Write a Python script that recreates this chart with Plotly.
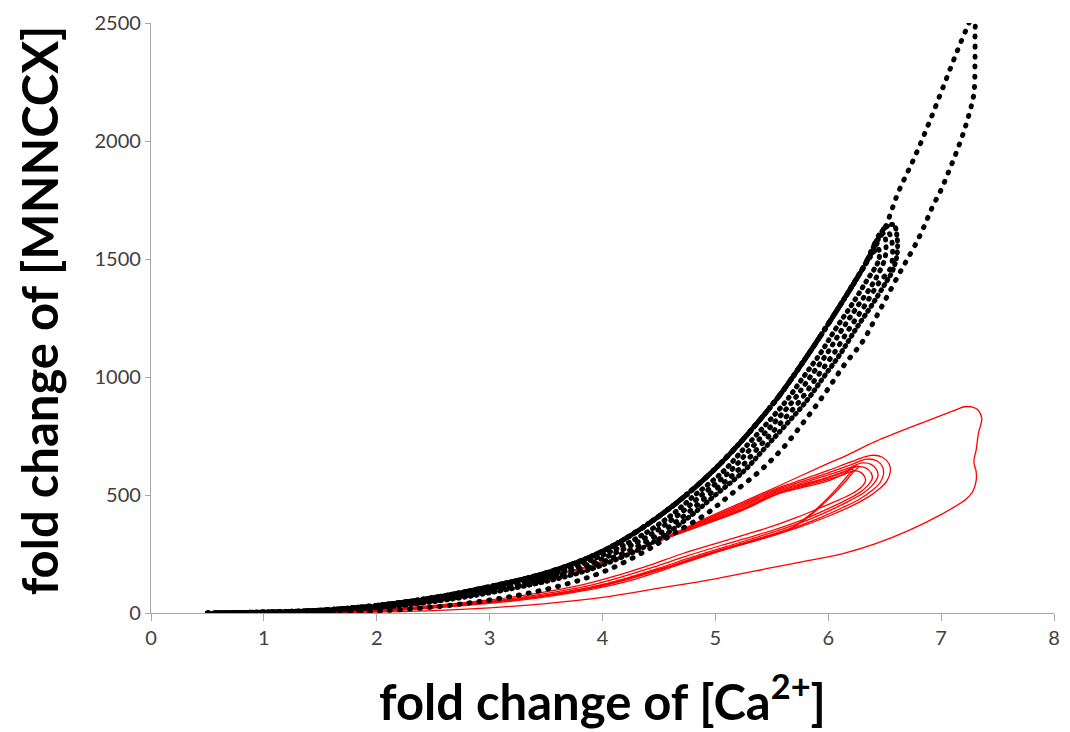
import plotly.graph_objects as go

# ---- black (dotted) trajectories: shared rising branch ----
blk_rise_ca = [0.50, 1.00, 1.50, 2.00, 2.50, 3.00, 3.50, 4.00, 4.50, 5.00, 5.50, 5.80, 6.10, 6.30, 6.50]
blk_rise_mn = [0, 4, 12, 32, 65, 112, 170, 262, 410, 612, 880, 1080, 1300, 1455, 1630]

# outer black cycle (continues above the rising branch)
blk_outer_ca = [6.62, 6.77, 6.91, 7.04, 7.14, 7.22, 7.27, 7.30, 7.30, 7.30, 7.29, 7.25, 7.20, 7.14,
                7.07, 7.00, 6.92, 6.85, 6.77, 6.69, 6.62, 6.52, 6.42, 6.30, 6.14, 5.98, 5.80, 5.60,
                5.39, 5.12, 4.92, 4.63, 4.39, 4.04, 3.70, 3.30, 2.90, 2.50, 2.00, 1.50, 1.00, 0.55]
blk_outer_mn = [1782, 1937, 2097, 2256, 2378, 2470, 2520, 2530, 2460, 2330, 2200, 2118, 2038, 1958,
                1874, 1794, 1718, 1639, 1559, 1490, 1430, 1340, 1250, 1147, 1050, 937, 820, 700,
                600, 496, 420, 336, 265, 181, 125, 80, 48, 25, 9, 3, 1, 0]

# inner black cycles (turning points and falling branches)
blk_c1_ca = [6.44, 6.45, 6.33, 6.20, 6.06, 5.93, 5.78, 5.63, 5.45, 5.26, 5.07, 4.82, 4.57, 4.24,
             3.77, 3.44, 2.98, 2.53, 2.05, 1.48, 1.00, 0.55]
blk_c1_mn = [1545, 1500, 1400, 1300, 1200, 1100, 1000, 900, 800, 700, 600, 500, 400, 300,
             200, 150, 100, 60, 30, 10, 3, 0]
blk_c2_ca = [6.49, 6.51, 6.50, 6.40, 6.26, 6.12, 5.99, 5.84, 5.69, 5.51, 5.32, 5.13, 4.88, 4.63,
             4.31, 3.84, 3.51, 3.04, 2.58, 2.10, 1.53, 1.00, 0.55]
blk_c2_mn = [1610, 1570, 1500, 1400, 1300, 1200, 1100, 1000, 900, 800, 700, 600, 500, 400,
             300, 200, 150, 100, 60, 30, 10, 3, 0]
blk_c3_ca = [6.55, 6.57, 6.55, 6.45, 6.32, 6.18, 6.05, 5.90, 5.75, 5.57, 5.38, 5.19, 4.94, 4.69,
             4.38, 3.91, 3.57, 3.10, 2.63, 2.14, 1.57, 1.03, 0.55]
blk_c3_mn = [1600, 1530, 1460, 1400, 1300, 1200, 1100, 1000, 900, 800, 700, 600, 500, 400,
             300, 200, 150, 100, 60, 30, 10, 3, 0]
blk_c4_ca = [6.58, 6.61, 6.61, 6.57, 6.51, 6.38, 6.24, 6.11, 5.96, 5.81, 5.63, 5.44, 5.25, 5.00,
             4.75, 4.45, 3.98, 3.64, 3.16, 2.68, 2.18, 1.60, 1.04, 0.55]
blk_c4_mn = [1645, 1590, 1520, 1450, 1400, 1300, 1200, 1100, 1000, 900, 800, 700, 600, 500,
             400, 300, 200, 150, 100, 60, 30, 10, 3, 0]

# ---- red (solid) trajectories: shared rising branch ----
red_rise_ca = [0.55, 1.00, 1.50, 2.00, 2.50, 2.90, 3.30, 3.70, 4.10, 4.45]
red_rise_mn = [0, 2, 10, 30, 68, 100, 138, 176, 228, 296]

red_outer_ca = [4.90, 5.25, 5.55, 5.98, 6.15, 6.42, 6.86, 7.10, 7.21, 7.28, 7.33, 7.36, 7.33, 7.31,
                7.29, 7.31, 7.31, 7.28, 7.22, 7.01, 6.71, 6.42, 6.13, 5.83, 5.50, 5.00, 4.50, 4.00,
                3.50, 3.00, 2.50, 2.00, 1.50, 1.00, 0.55]
red_outer_mn = [398, 472, 536, 630, 665, 727, 811, 855, 874, 872, 858, 825, 760, 690,
                640, 600, 560, 515, 482, 420, 349, 294, 252, 223, 192, 145, 105, 66,
                40, 22, 10, 4, 1, 0, 0]

red_c5_ca = [4.90, 5.25, 5.55, 5.80, 6.00, 6.20, 6.38, 6.48, 6.54, 6.55, 6.52, 6.45, 6.35, 6.20,
             6.00, 5.75, 5.50, 5.20, 4.90, 4.60, 4.30, 4.00, 3.60, 3.20, 2.80, 2.40, 2.00, 1.50,
             1.00, 0.55]
red_c5_mn = [394, 466, 529, 570, 604, 640, 668, 660, 630, 600, 560, 525, 490, 452,
             410, 365, 328, 285, 240, 192, 145, 110, 76, 50, 32, 18, 8, 3,
             0.5, 0]
red_c4_ca = [4.90, 5.25, 5.55, 5.80, 6.00, 6.20, 6.34, 6.43, 6.48, 6.49, 6.46, 6.39, 6.28, 6.12,
             5.92, 5.70, 5.45, 5.15, 4.85, 4.55, 4.25, 3.95, 3.55, 3.15, 2.75, 2.35, 1.95, 1.50,
             1.00, 0.55]
red_c4_mn = [390, 460, 524, 562, 594, 628, 652, 645, 620, 590, 553, 520, 483, 445,
             402, 362, 325, 282, 238, 190, 146, 110, 77, 51, 32, 18, 8, 3,
             0.5, 0]
red_c3_ca = [4.90, 5.25, 5.55, 5.80, 6.00, 6.18, 6.30, 6.38, 6.43, 6.44, 6.40, 6.32, 6.20, 6.04,
             5.85, 5.62, 5.38, 5.10, 4.80, 4.50, 4.20, 3.90, 3.50, 3.10, 2.70, 2.30, 1.90, 1.50,
             1.00, 0.55]
red_c3_mn = [386, 454, 519, 555, 585, 614, 636, 630, 606, 580, 546, 512, 478, 440,
             400, 360, 323, 282, 238, 190, 146, 110, 77, 51, 33, 19, 8, 3,
             0.5, 0]
red_c2_ca = [4.90, 5.25, 5.55, 5.80, 6.00, 6.15, 6.26, 6.33, 6.38, 6.39, 6.35, 6.27, 6.14, 5.98,
             5.80, 5.58, 5.34, 5.05, 4.75, 4.45, 4.15, 3.85, 3.45, 3.05, 2.65, 2.25, 1.85, 1.45,
             1.00, 0.55]
red_c2_mn = [382, 448, 514, 548, 576, 600, 620, 615, 594, 570, 540, 508, 474, 438,
             400, 362, 326, 286, 242, 194, 150, 113, 79, 52, 34, 19, 9, 3,
             0.5, 0]
red_c1_ca = [4.90, 5.25, 5.55, 5.80, 6.00, 6.12, 6.22, 6.28, 6.32, 6.33, 6.29, 6.20, 6.06, 5.90,
             5.72, 5.52, 5.28, 5.00, 4.70, 4.40, 4.10, 3.80, 3.40, 3.00, 2.60, 2.20, 1.80, 1.40,
             1.00, 0.55]
red_c1_mn = [378, 442, 509, 540, 566, 584, 602, 598, 580, 560, 532, 503, 472, 440,
             405, 370, 334, 294, 250, 200, 155, 117, 82, 55, 36, 20, 9, 3,
             0.5, 0]
red_s1_ca = [4.90, 5.25, 5.55, 5.80, 6.00, 6.12, 6.20, 6.22, 6.18, 6.08, 5.95, 5.80, 5.65, 5.40,
             5.10, 4.80, 4.50, 4.20, 3.90, 3.50, 3.10, 2.70, 2.30, 1.90, 1.50, 1.00, 0.55]
red_s1_mn = [374, 437, 504, 535, 560, 585, 608, 606, 586, 530, 465, 402, 352, 312,
             272, 228, 184, 142, 108, 75, 50, 32, 18, 8, 3, 0.5, 0]
red_s2_ca = [4.90, 5.25, 5.55, 5.80, 6.00, 6.15, 6.24, 6.27, 6.22, 6.12, 6.00, 5.87, 5.72, 5.50,
             5.20, 4.90, 4.60, 4.30, 4.00, 3.60, 3.20, 2.80, 2.40, 2.00, 1.50, 1.00, 0.55]
red_s2_mn = [376, 440, 506, 544, 573, 600, 622, 620, 596, 540, 482, 425, 372, 332,
             290, 246, 200, 156, 118, 82, 55, 36, 20, 9, 3, 0.5, 0]


def cycle(rise_x, rise_y, part_x, part_y):
    """Join the shared rising branch (up to where a cycle leaves it) with that cycle's own points."""
    keep = [i for i, v in enumerate(rise_x) if v < part_x[0]]
    return [rise_x[i] for i in keep] + part_x, [rise_y[i] for i in keep] + part_y


fig = go.Figure()

red_parts = [(red_outer_ca, red_outer_mn), (red_c5_ca, red_c5_mn), (red_c4_ca, red_c4_mn),
             (red_c3_ca, red_c3_mn), (red_c2_ca, red_c2_mn), (red_c1_ca, red_c1_mn),
             (red_s1_ca, red_s1_mn), (red_s2_ca, red_s2_mn)]
for px, py in red_parts:
    x, y = cycle(red_rise_ca, red_rise_mn, px, py)
    fig.add_trace(go.Scatter(x=x, y=y, mode="lines", line=dict(color="#ff0000", width=1.3),
                             line_shape="spline", hoverinfo="skip", showlegend=False))

blk_parts = [((blk_outer_ca, blk_outer_mn), "1px,9px"),
             ((blk_c1_ca, blk_c1_mn), "1px,6px"),
             ((blk_c2_ca, blk_c2_mn), "1px,7px"),
             ((blk_c3_ca, blk_c3_mn), "1px,8px"),
             ((blk_c4_ca, blk_c4_mn), "1px,5px")]
for (px, py), dash in blk_parts:
    x, y = cycle(blk_rise_ca, blk_rise_mn, px, py)
    fig.add_trace(go.Scatter(x=x, y=y, mode="lines", line=dict(color="#000000", width=5, dash=dash),
                             line_shape="spline", hoverinfo="skip", showlegend=False))

axis_col = "#a6a6a6"
tick_font = dict(family="Lato, Carlito, Calibri, sans-serif", size=20, color="#404040")
fig.update_xaxes(range=[0, 8], dtick=1, tick0=0, showline=True, linecolor=axis_col, linewidth=1.3,
                 ticks="outside", ticklen=7, tickcolor=axis_col, tickwidth=1.3,
                 showgrid=False, zeroline=False, tickfont=tick_font, fixedrange=True)
fig.update_yaxes(range=[0, 2500], dtick=500, tick0=0, showline=True, linecolor=axis_col, linewidth=1.3,
                 ticks="outside", ticklen=5, tickcolor=axis_col, tickwidth=1.3,
                 showgrid=False, zeroline=False, tickfont=tick_font, fixedrange=True)

title_font = dict(family="Lato, Carlito, Calibri, sans-serif", size=49, color="#000000", weight="bold")
fig.add_annotation(text="fold change of [Ca<sup>2+</sup>]", xref="paper", yref="paper",
                   x=0.5, y=-(698 - 613) / 595, xanchor="center", yanchor="middle",
                   showarrow=False, font=title_font)
fig.add_annotation(text="fold change of [MNNCCX]", xref="paper", yref="paper",
                   x=(38 - 151) / 909, y=(613 - 308) / 595, xanchor="center", yanchor="middle",
                   textangle=-90, showarrow=False, font=title_font)

fig.update_layout(width=1070, height=732, margin=dict(l=151, r=10, t=18, b=119),
                  paper_bgcolor="white", plot_bgcolor="white")

round_dots = """
var gd = document.getElementById('{plot_id}');
function roundDots() {
  gd.querySelectorAll('.scatterlayer path.js-line').forEach(function (p) {
    var d = p.style.strokeDasharray;
    if (d && d !== 'none') { p.style.strokeLinecap = 'round'; }
  });
}
roundDots();
gd.on('plotly_afterplot', roundDots);
"""
fig.write_html("out.html", post_script=round_dots)
